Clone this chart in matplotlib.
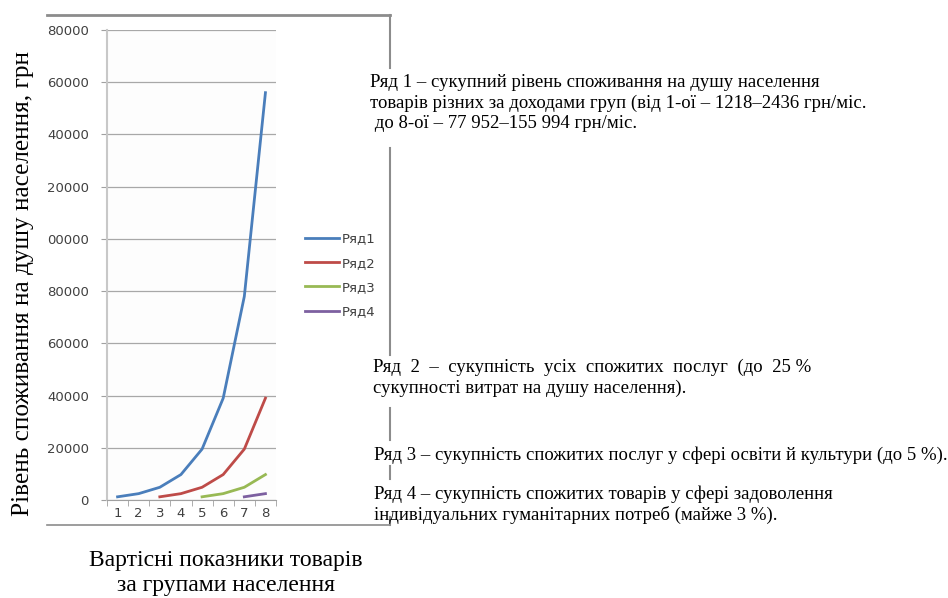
import matplotlib
matplotlib.use("Agg")
import matplotlib.pyplot as plt
from matplotlib.lines import Line2D
from matplotlib.ticker import FixedLocator, FixedFormatter

# data
groups = [1, 2, 3, 4, 5, 6, 7, 8]
row1 = [1218, 2436, 4872, 9744, 19488, 38976, 77952, 155994]
row2_x = [3, 4, 5, 6, 7, 8]
row2 = [1218, 2436, 4872, 9744, 19488, 38998]
row3_x = [5, 6, 7, 8]
row3 = [1218, 2436, 4872, 9744]
row4_x = [7, 8]
row4 = [1218, 2436]
series_names = ["Ряд1", "Ряд2", "Ряд3", "Ряд4"]
ytick_vals = [0, 20000, 40000, 60000, 80000, 100000, 120000, 140000, 160000, 180000]
# labels are clipped in the source image (leading "1" cut off)
ytick_labels = ["0", "20000", "40000", "60000", "80000",
                "00000", "20000", "40000", "60000", "80000"]

W, H = 948, 598
fig = plt.figure(figsize=(W / 100, H / 100), dpi=100)
fig.patch.set_facecolor("white")


def fx(px):
    return px / W


def fy(py):
    return 1 - py / H


ax = fig.add_axes([fx(107), fy(500), fx(276) - fx(107), fy(30) - fy(500)])
ax.set_facecolor("#fdfdfd")

colors = ["#4a7ebb", "#be4b48", "#98b954", "#7d60a0"]
ax.plot(groups, row1, color=colors[0], lw=2.0, label=series_names[0])
ax.plot(row2_x, row2, color=colors[1], lw=2.0, label=series_names[1])
ax.plot(row3_x, row3, color=colors[2], lw=2.0, label=series_names[2])
ax.plot(row4_x, row4, color=colors[3], lw=2.0, label=series_names[3])

ax.set_xlim(0.5, 8.5)
ax.set_ylim(0, 180000)
ax.yaxis.set_major_locator(FixedLocator(ytick_vals))
ax.yaxis.set_major_formatter(FixedFormatter(ytick_labels))
ax.set_xticks(groups)
ax.set_xticks([g + 0.5 for g in [0] + groups], minor=True)
ax.tick_params(axis="x", which="major", length=0, pad=5, labelsize=9.5, labelcolor="#404040")
ax.tick_params(axis="x", which="minor", length=4, color="#a0a0a0", direction="out")
ax.tick_params(axis="y", length=4, color="#a0a0a0", pad=9, labelsize=9.5, labelcolor="#404040")
ax.grid(axis="y", color="#a8a8a8", lw=0.9)
ax.set_axisbelow(True)
for s in ["top", "right"]:
    ax.spines[s].set_visible(False)
ax.spines["left"].set_color("#c8c8c8")
ax.spines["left"].set_linewidth(1.5)
ax.spines["bottom"].set_color("#a0a0a0")

leg = fig.legend(handles=ax.get_lines(), loc="upper left",
                 bbox_to_anchor=(fx(298), fy(226)), frameon=False,
                 fontsize=9.5, handlelength=2.6, handletextpad=0.2,
                 labelspacing=0.85, borderpad=0)
for t in leg.get_texts():
    t.set_color("#404040")

# outer frame of the chart area (partially hidden by text boxes)
gray = "#8c8c8c"
fig.add_artist(Line2D([fx(47), fx(390)], [fy(15), fy(15)], color=gray, lw=2))
fig.add_artist(Line2D([fx(47), fx(390)], [fy(525), fy(525)], color=gray, lw=1.2))
for y0, y1 in [(15, 68), (148, 355), (408, 440), (466, 479), (517, 525)]:
    fig.add_artist(Line2D([fx(390), fx(390)], [fy(y0), fy(y1)], color=gray, lw=1.5))

serif = "Liberation Serif"
fig.text(fx(23), fy(284), "Рівень споживання на душу населення, грн",
         rotation=90, ha="center", va="center", family=serif, fontsize=18.2)
fig.text(fx(226), fy(573), "Вартісні показники товарів\nза групами населення",
         ha="center", va="center", family=serif, fontsize=17, linespacing=1.3)

note_kw = dict(ha="left", va="center", family=serif, fontsize=13.5, linespacing=1.24)
fig.text(fx(370), fy(103),
         "Ряд 1 – сукупний рівень споживання на душу населення\n"
         "товарів різних за доходами груп (від 1-ої – 1218–2436 грн/міс.\n"
         " до 8-ої – 77 952–155 994 грн/міс.", **note_kw)
fig.text(fx(373), fy(378),
         "Ряд  2  –  сукупність  усіх  спожитих  послуг  (до  25 %\n"
         "сукупності витрат на душу населення).", **note_kw)
fig.text(fx(374), fy(455),
         "Ряд 3 – сукупність спожитих послуг у сфері освіти й культури (до 5 %).", **note_kw)
fig.text(fx(374), fy(505),
         "Ряд 4 – сукупність спожитих товарів у сфері задоволення\n"
         "індивідуальних гуманітарних потреб (майже 3 %).", **note_kw)

fig.savefig("out.png", dpi=100)
